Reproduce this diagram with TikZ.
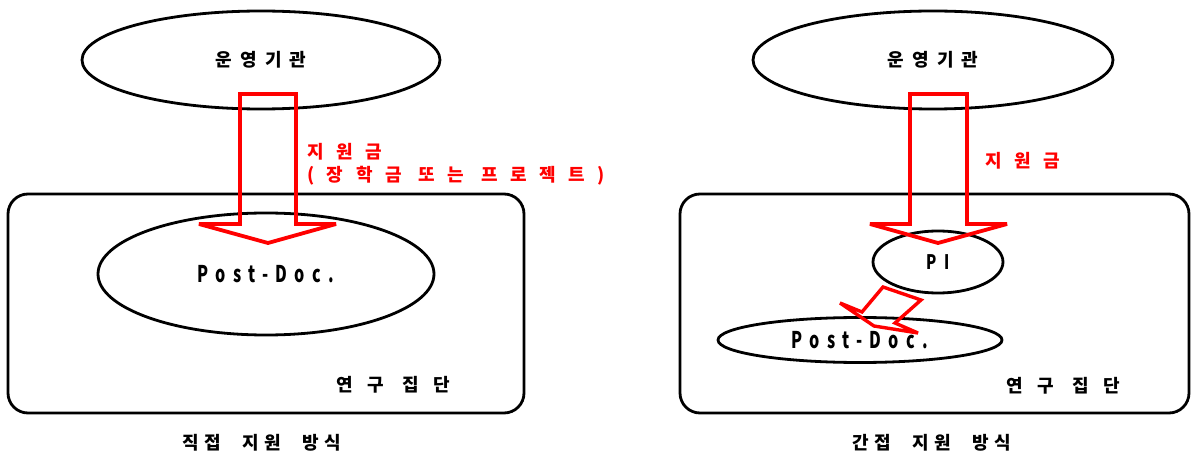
\documentclass[tikz,border=0pt]{standalone}
\usepackage{fontspec}
\usetikzlibrary{shapes.geometric}
\newfontfamily\kr{Noto Sans CJK KR}
\definecolor{arrowred}{RGB}{255,0,0}
\begin{document}
\begin{tikzpicture}[x=1pt,y=-1pt,
  ell/.style={draw=black, line width=2.8pt, ellipse, inner sep=0pt},
  box/.style={draw=black, line width=2.8pt, rounded corners=20pt},
  blk/.style={draw=arrowred, line width=3.8pt, line join=miter, miter limit=5},
  ko/.style={inner sep=0pt, font=\kr\bfseries\fontsize{18}{20}\selectfont},
  redtxt/.style={ko, text=arrowred, anchor=west},
  kell/.style={ell, font=\kr\bfseries\fontsize{18}{20}\selectfont},
  pd/.style={ell, font=\kr\bfseries\fontsize{23}{25}\selectfont}]
\useasboundingbox (0,0) rectangle (1192,457);
% ---------- left: direct support ----------
\draw[box] (8,194) rectangle (524,413);
\node[kell, minimum width=358pt, minimum height=98pt] (orgL) at (261,60)
  {\addfontfeatures{LetterSpace=45}운영기관};
\node[pd, minimum width=336pt, minimum height=122pt] (pdL) at (266,274)
  {\addfontfeatures{LetterSpace=32,FakeStretch=0.7}Post-Doc.};
\draw[blk] (240,94) -- (296,94) -- (296,224) -- (336,224) -- (268,243)
  -- (199,224) -- (240,224) -- cycle;
\node[redtxt] (fundL) at (307,152) {\addfontfeatures{LetterSpace=70}지원금};
\node[redtxt] (fundL2) at (307,176) {\addfontfeatures{LetterSpace=70}(장학금 또는 프로젝트)};
\node[ko] (grpL) at (393,385) {\addfontfeatures{LetterSpace=80}연구 집단};
\node[ko] (capL) at (262,443) {\addfontfeatures{LetterSpace=30}직접\hspace{12pt} 지원\hspace{12pt} 방식};
% ---------- right: indirect support ----------
\draw[box] (680,194) rectangle (1189,413);
\node[kell, minimum width=360pt, minimum height=98pt] (orgR) at (933,60)
  {\addfontfeatures{LetterSpace=45}운영기관};
\node[pd, minimum width=130pt, minimum height=62pt, font=\kr\bfseries\fontsize{20}{22}\selectfont] (pi) at (938,262)
  {\addfontfeatures{LetterSpace=40,FakeStretch=0.75}PI};
\node[pd, minimum width=284pt, minimum height=45pt] (pdR) at (860,340)
  {\addfontfeatures{LetterSpace=32,FakeStretch=0.7}Post-Doc.};
\draw[blk] (910,94) -- (967,94) -- (967,224) -- (1007,224) -- (938,243)
  -- (870,224) -- (910,224) -- cycle;
\draw[blk, line width=3.4pt, miter limit=3] (862,312) -- (883,287) -- (921,300) -- (895,323)
  -- (918,333) -- (874,326) -- (840,303) -- cycle;
\node[redtxt] (fundR) at (985,161) {\addfontfeatures{LetterSpace=70}지원금};
\node[ko] (grpR) at (1063,386) {\addfontfeatures{LetterSpace=80}연구 집단};
\node[ko] (capR) at (932,443) {\addfontfeatures{LetterSpace=30}간접\hspace{12pt} 지원\hspace{12pt} 방식};
\end{tikzpicture}
\end{document}
